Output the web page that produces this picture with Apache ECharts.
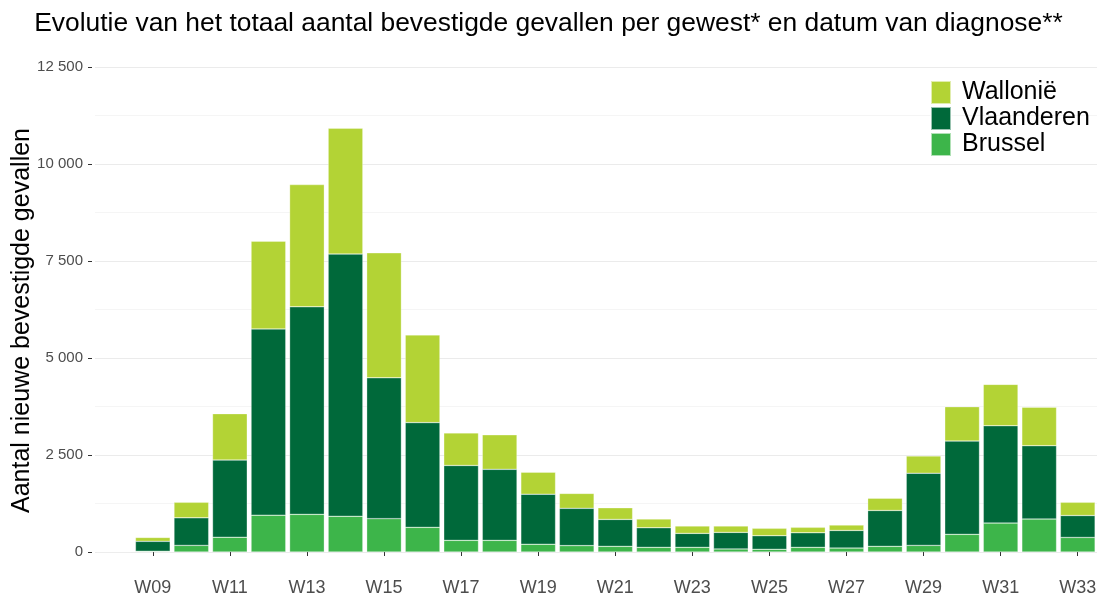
<!DOCTYPE html>
<html>
<head>
<meta charset="utf-8">
<script src="https://cdn.jsdelivr.net/npm/echarts@6/dist/echarts.min.js"></script>
<style>
  html, body { margin: 0; padding: 0; background: #fff; }
  #chart { width: 1097px; height: 599px; }
</style>
</head>
<body>
<div id="chart"></div>
<script>
const weeks = ['W08', 'W09', 'W10', 'W11', 'W12', 'W13', 'W14', 'W15', 'W16', 'W17', 'W18', 'W19', 'W20',
  'W21', 'W22', 'W23', 'W24', 'W25', 'W26', 'W27', 'W28', 'W29', 'W30', 'W31', 'W32', 'W33'];
const brussel = [10, 20, 170, 380, 950, 970, 920, 860, 635, 300, 300, 200, 165,
  145, 120, 120, 80, 70, 120, 100, 145, 170, 455, 745, 850, 375];
const vlaanderen = [6, 255, 710, 1990, 4800, 5350, 6760, 3630, 2700, 1930, 1830, 1290, 960,
  695, 505, 360, 425, 350, 375, 455, 925, 1860, 2405, 2510, 1890, 565];
const wallonie = [4, 100, 400, 1195, 2260, 3150, 3240, 3220, 2260, 840, 890, 565, 385,
  300, 225, 190, 165, 190, 140, 140, 315, 445, 885, 1065, 990, 340];

const chart = echarts.init(document.getElementById('chart'));

const fmt = (v) => String(v).replace(/\B(?=(\d{3})+(?!\d))/g, ' ');
const oddOnly = (i) => i % 2 === 1;

const bar = (name, data, color) => ({
  name,
  type: 'bar',
  stack: 'total',
  data,
  barCategoryGap: '10%',
  itemStyle: { color, borderColor: 'rgba(255,255,255,0.6)', borderWidth: 0.5 },
});

chart.setOption({
  animation: false,
  textStyle: { fontFamily: 'Liberation Sans, Arial, sans-serif' },
  title: {
    text: 'Evolutie van het totaal aantal bevestigde gevallen per gewest* en datum van diagnose**',
    left: 'center',
    top: 6,
    textStyle: { fontSize: 26.4, fontWeight: 'normal', color: '#000' },
  },
  legend: {
    orient: 'vertical',
    left: 930,
    top: 80,
    padding: 0,
    itemWidth: 20,
    itemHeight: 23,
    itemGap: 1,
    icon: 'rect',
    data: ['Wallonië', 'Vlaanderen', 'Brussel'],
    textStyle: { fontSize: 25, lineHeight: 23, color: '#000', padding: [0, 0, 0, 6] },
  },
  grid: { left: 95, right: 0, top: 67, bottom: 47, outerBoundsMode: 'none' },
  xAxis: {
    type: 'category',
    data: weeks,
    offset: 24,
    axisLine: { show: false },
    axisTick: {
      show: true,
      alignWithLabel: true,
      interval: oddOnly,
      length: 4,
      lineStyle: { color: '#333' },
    },
    axisLabel: { interval: oddOnly, color: '#4D4D4D', fontSize: 18, margin: 3 },
  },
  yAxis: {
    type: 'value',
    min: 0,
    max: 12500,
    interval: 2500,
    offset: 3,
    name: 'Aantal nieuwe bevestigde gevallen',
    nameLocation: 'middle',
    nameGap: 57,
    nameMoveOverlap: false,
    nameTextStyle: { fontSize: 25, color: '#000', padding: [0, 22, 0, 0] },
    axisLine: { show: false },
    axisTick: { show: true, length: 4, lineStyle: { color: '#333' } },
    axisLabel: { color: '#4D4D4D', fontSize: 15, margin: 9, formatter: fmt },
    splitLine: { show: true, lineStyle: { color: '#EBEBEB', width: 1 } },
    minorTick: { show: false, splitNumber: 2 },
    minorSplitLine: { show: true, lineStyle: { color: '#F5F5F5', width: 1 } },
  },
  series: [
    bar('Brussel', brussel, '#3DB54A'),
    bar('Vlaanderen', vlaanderen, '#00693A'),
    bar('Wallonië', wallonie, '#B3D335'),
  ],
});
</script>
</body>
</html>
